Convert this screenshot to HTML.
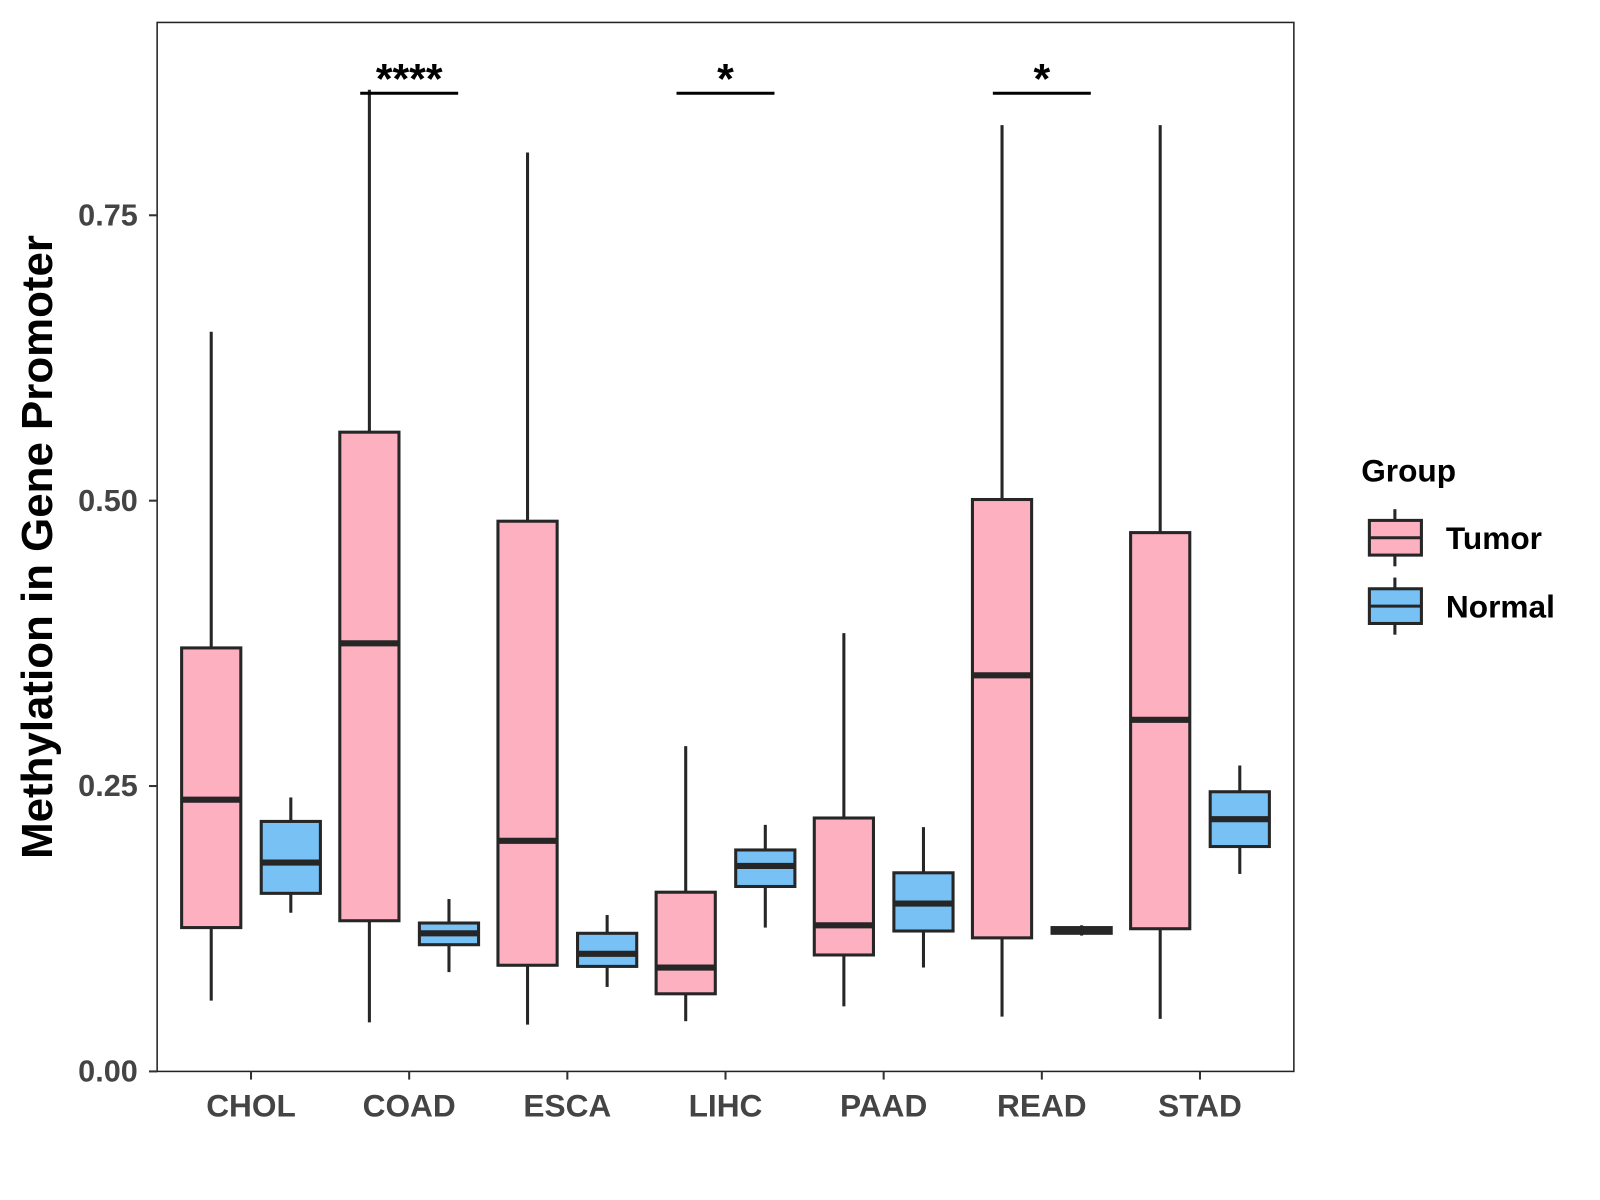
<!DOCTYPE html>
<html><head><meta charset="utf-8"><style>html,body{margin:0;padding:0;background:#fff;}svg{display:block;font-family:"Liberation Sans",Arial,sans-serif;}</style></head>
<body>
<svg width="1600" height="1200" viewBox="0 0 1600 1200"><g id="chart" transform="scale(1.0204)"></g></svg>
<script>
const categories=["CHOL","COAD","ESCA","LIHC","PAAD","READ","STAD"];
const tumorStats=[[0.062,0.126,0.238,0.371,0.648],[0.043,0.132,0.375,0.560,0.860],[0.041,0.093,0.202,0.482,0.805],[0.044,0.068,0.091,0.157,0.285],[0.057,0.102,0.128,0.222,0.384],[0.048,0.117,0.347,0.501,0.829],[0.046,0.125,0.308,0.472,0.829]];
const normalStats=[[0.139,0.156,0.183,0.219,0.240],[0.087,0.111,0.121,0.130,0.151],[0.074,0.092,0.103,0.121,0.137],[0.126,0.162,0.180,0.194,0.216],[0.091,0.123,0.147,0.174,0.214],[0.119,0.121,0.123,0.126,0.128],[0.173,0.197,0.221,0.245,0.268]];
const yTicks=[0,0.25,0.5,0.75];
const yTickLabels=["0.00","0.25","0.50","0.75"];
const sigCategories=["COAD","LIHC","READ"];
const sigLabels=["****","*","*"];
const sigLevel=0.856;

const NS="http://www.w3.org/2000/svg";
const svg=document.getElementById("chart");
const L=154,R=1268,T=22,B=1050;
const y=v=>B-v*1118.7;
const x=i=>246+i*155;
function el(tag,attrs,parent){const e=document.createElementNS(NS,tag);for(const k in attrs)e.setAttribute(k,attrs[k]);(parent||svg).appendChild(e);return e;}
const panel=el("rect",{x:L,y:T,width:R-L,height:B-T,fill:"#fff",stroke:"#222","stroke-width":1.5});


yTicks.forEach((v,i)=>{
  const t=el("line",{x1:146,x2:L,y1:y(v),y2:y(v),stroke:"#333","stroke-width":2});
  
  
  const tx=el("text",{x:135,y:y(v)+10,"text-anchor":"end","font-size":30,"font-weight":"bold",fill:"#444"});
  tx.textContent=yTickLabels[i];
  
  
});
categories.forEach((c,i)=>{
  const t=el("line",{x1:x(i),x2:x(i),y1:B,y2:B+8,stroke:"#333","stroke-width":2});
  
  
  const tx=el("text",{x:x(i),y:1094,"text-anchor":"middle","font-size":31,"font-weight":"bold",fill:"#444"});
  tx.textContent=c;
  
  
});
function box(cx,s,fill,name){
  const g=el("g",{});
  
  
  el("line",{x1:cx,x2:cx,y1:y(s[0]),y2:y(s[1]),stroke:"#262626","stroke-width":3},g);
  el("line",{x1:cx,x2:cx,y1:y(s[3]),y2:y(s[4]),stroke:"#262626","stroke-width":3},g);
  el("rect",{x:cx-29,y:y(s[3]),width:58,height:Math.max(1,y(s[1])-y(s[3])),fill:fill,stroke:"#262626","stroke-width":3},g);
  el("line",{x1:cx-29,x2:cx+29,y1:y(s[2]),y2:y(s[2]),stroke:"#262626","stroke-width":6},g);
}
categories.forEach((c,i)=>{
  box(x(i)-39,tumorStats[i],"#FDB0C0","box-tumor-"+c.toLowerCase());
  box(x(i)+39,normalStats[i],"#77C1F5","box-normal-"+c.toLowerCase());
});
sigCategories.forEach((c,k)=>{
  const i=categories.indexOf(c);
  const ln=el("line",{x1:x(i)-48,x2:x(i)+48,y1:y(sigLevel)-1,y2:y(sigLevel)-1,stroke:"#000","stroke-width":3});
  
  
  const tx=el("text",{x:x(i),y:y(sigLevel)-1,"text-anchor":"middle","font-size":42,"font-weight":"bold"});
  tx.textContent=sigLabels[k];
  
  
});
const yt=el("text",{x:0,y:0,transform:"translate(51,536) rotate(-90)","text-anchor":"middle","font-size":43,"font-weight":"bold"});
yt.textContent="Methylation in Gene Promoter";


const lt=el("text",{x:1334,y:472,"font-size":31,"font-weight":"bold"});
lt.textContent="Group";


[["Tumor","#FDB0C0",527],["Normal","#77C1F5",594]].forEach(([n,f,cy])=>{
  const g=el("g",{});
  
  
  el("line",{x1:1367,x2:1367,y1:cy-28,y2:cy+28,stroke:"#262626","stroke-width":3},g);
  el("rect",{x:1342,y:cy-17,width:51,height:34,fill:f,stroke:"#262626","stroke-width":3},g);
  el("line",{x1:1342,x2:1393,y1:cy,y2:cy,stroke:"#262626","stroke-width":3},g);
  const t=el("text",{x:1417,y:cy+11,"font-size":31,"font-weight":"bold"},g);
  t.textContent=n;
});
</script>
</body></html>
